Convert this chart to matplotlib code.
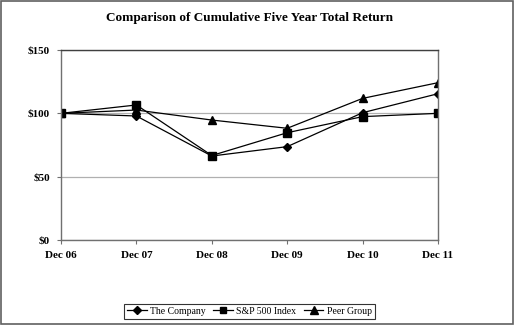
import matplotlib
matplotlib.use('Agg')
import matplotlib.pyplot as plt
from matplotlib.patches import Rectangle

years = ['Dec 06', 'Dec 07', 'Dec 08', 'Dec 09', 'Dec 10', 'Dec 11']
company = [100, 97.9, 66.3, 73.7, 100.5, 115.5]
sp500 = [100, 106.6, 66.7, 84.7, 97.4, 100]
peer = [100, 102.6, 94.7, 88.2, 111.8, 124.2]
yticks = [0, 50, 100, 150]
ylabels = ['$0', '$50', '$100', '$150']

plt.rcParams['font.family'] = ['Liberation Serif', 'DejaVu Serif']

fig = plt.figure(figsize=(5.15, 3.25), dpi=100)
ax = fig.add_axes([61 / 515, 1 - 240 / 325, 377 / 515, 190 / 325])

x = range(len(years))
ax.plot(x, company, color='black', lw=0.9, marker='D', ms=4.5, label='The Company')
ax.plot(x, sp500, color='black', lw=0.9, marker='s', ms=5.5, label='S&P 500 Index')
ax.plot(x, peer, color='black', lw=0.9, marker='^', ms=6, label='Peer Group')

ax.set_xlim(0, len(years) - 1)
ax.set_ylim(0, 150)
ax.set_xticks(list(x))
ax.set_xticklabels(years, fontweight='bold', fontsize=8)
ax.set_yticks(yticks)
ax.set_yticklabels(ylabels, fontweight='bold', fontsize=8)
ax.yaxis.grid(True, color='#b0b0b0', lw=0.9)
ax.set_axisbelow(True)
for s in ax.spines.values():
    s.set_color('#707070')
    s.set_linewidth(1.0)
ax.spines['top'].set_color('#404040')
ax.tick_params(axis='x', direction='out', length=3, color='#707070', pad=5)
ax.tick_params(axis='y', direction='out', length=3, color='#707070', pad=5)

ax.set_title('Comparison of Cumulative Five Year Total Return',
             fontweight='bold', fontsize=9.5, pad=21)

leg = ax.legend(loc='upper center', bbox_to_anchor=(0.5, -0.31), ncol=3,
                fontsize=7, frameon=True, fancybox=False, edgecolor='black',
                handlelength=2.0, columnspacing=0.8, borderpad=0.3,
                handletextpad=0.35, markerscale=0.9)
leg.get_frame().set_linewidth(0.8)

fig.patches.append(Rectangle((0.002, 0.003), 0.995, 0.993, transform=fig.transFigure,
                             fill=False, edgecolor='#606060', lw=1.2))

fig.savefig('out.png', dpi=100)
